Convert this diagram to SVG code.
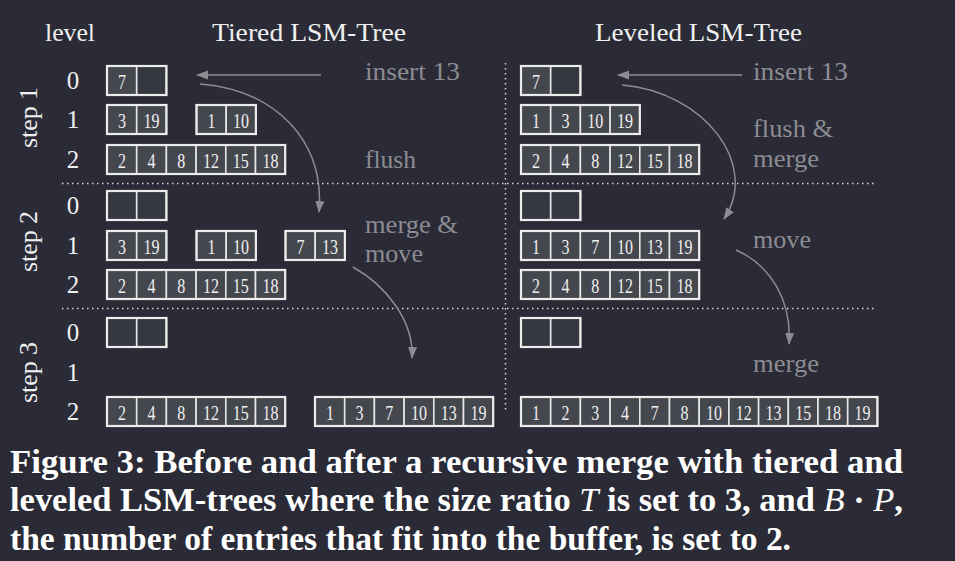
<svg xmlns="http://www.w3.org/2000/svg" width="955" height="561" viewBox="0 0 955 561">
<defs>
<style>
.bg{fill:#2a2b36}
.cell{fill:#45474f;stroke:#e6e6e6;stroke-width:1.6}
.empty{fill:#353741;stroke:#e6e6e6;stroke-width:1.6}
.box{fill:none;stroke:#ececec;stroke-width:2.2}
.num{font-family:"Liberation Serif","Times New Roman",serif;font-size:20px;fill:#f0f0f0;text-anchor:middle}
.lbl{font-family:"Liberation Serif","Times New Roman",serif;font-size:25px;fill:#f0f0f0}
.gl{font-family:"Liberation Serif","Times New Roman",serif;font-size:25px;fill:#8c8c92}
.cap{font-family:"Liberation Serif","Times New Roman",serif;font-size:33px;font-weight:bold;fill:#ffffff}
.it{font-style:italic;font-weight:normal}
.dot{stroke:#d8d8d8;stroke-width:1.5;stroke-dasharray:1.5 3.5;fill:none}
.conn{stroke:#8c8c92;stroke-width:1.5;fill:none;marker-end:url(#ah)}
</style>
<marker id="ah" markerUnits="userSpaceOnUse" markerWidth="12" markerHeight="10" refX="11" refY="4.5" orient="auto">
<path d="M0,0 L12,4.5 L0,9 z" fill="#8c8c92"/>
</marker>
</defs>
<rect class="bg" x="0" y="0" width="955" height="561"/>

<g id="headers">
<text class="lbl" x="45" y="41" textLength="50" lengthAdjust="spacingAndGlyphs">level</text>
<text class="lbl" x="212" y="41" textLength="194" lengthAdjust="spacingAndGlyphs">Tiered LSM-Tree</text>
<text class="lbl" x="595" y="41" textLength="207" lengthAdjust="spacingAndGlyphs">Leveled LSM-Tree</text>
</g>

<g id="steps">
<text class="lbl" transform="translate(37,148) rotate(-90)" textLength="61" lengthAdjust="spacingAndGlyphs">step 1</text>
<text class="lbl" transform="translate(37,272) rotate(-90)" textLength="61" lengthAdjust="spacingAndGlyphs">step 2</text>
<text class="lbl" transform="translate(37,403) rotate(-90)" textLength="61" lengthAdjust="spacingAndGlyphs">step 3</text>
</g>

<g id="levels" class="lbl" text-anchor="middle">
<text x="73" y="89">0</text><text x="73" y="128">1</text><text x="73" y="168">2</text>
<text x="73" y="214">0</text><text x="73" y="254">1</text><text x="73" y="293">2</text>
<text x="73" y="341">0</text><text x="73" y="381">1</text><text x="73" y="420">2</text>
</g>

<g id="separators">
<line class="dot" x1="62" y1="183.5" x2="875" y2="183.5"/>
<line class="dot" x1="62" y1="308.5" x2="875" y2="308.5"/>
<line class="dot" x1="505.5" y1="63" x2="505.5" y2="413"/>
</g>

<!-- Tiered step 1 -->
<g id="t1-l0">
<rect class="cell" x="107" y="66" width="29.7" height="29"/><rect class="empty" x="136.7" y="66" width="29.7" height="29"/>
<rect class="box" x="107" y="66" width="59.4" height="29"/>
<text class="num" x="121.9" y="89" textLength="8" lengthAdjust="spacingAndGlyphs">7</text>
</g>
<g id="t1-l1a">
<rect class="cell" x="107" y="105" width="29.7" height="29"/><rect class="cell" x="136.7" y="105" width="29.7" height="29"/>
<rect class="box" x="107" y="105" width="59.4" height="29"/>
<text class="num" x="121.9" y="128" textLength="8" lengthAdjust="spacingAndGlyphs">3</text>
<text class="num" x="151.6" y="128" textLength="16" lengthAdjust="spacingAndGlyphs">19</text>
</g>
<g id="t1-l1b">
<rect class="cell" x="196.5" y="105" width="29.7" height="29"/><rect class="cell" x="226.2" y="105" width="29.7" height="29"/>
<rect class="box" x="196.5" y="105" width="59.4" height="29"/>
<text class="num" x="211.4" y="128" textLength="8" lengthAdjust="spacingAndGlyphs">1</text>
<text class="num" x="241.1" y="128" textLength="16" lengthAdjust="spacingAndGlyphs">10</text>
</g>
<g id="t1-l2">
<rect class="cell" x="107" y="145" width="29.7" height="29"/><rect class="cell" x="136.7" y="145" width="29.7" height="29"/><rect class="cell" x="166.4" y="145" width="29.7" height="29"/><rect class="cell" x="196.1" y="145" width="29.7" height="29"/><rect class="cell" x="225.8" y="145" width="29.7" height="29"/><rect class="cell" x="255.5" y="145" width="29.7" height="29"/>
<rect class="box" x="107" y="145" width="178.2" height="29"/>
<text class="num" x="121.9" y="168" textLength="8" lengthAdjust="spacingAndGlyphs">2</text>
<text class="num" x="151.6" y="168" textLength="8" lengthAdjust="spacingAndGlyphs">4</text>
<text class="num" x="181.3" y="168" textLength="8" lengthAdjust="spacingAndGlyphs">8</text>
<text class="num" x="211" y="168" textLength="16" lengthAdjust="spacingAndGlyphs">12</text>
<text class="num" x="240.7" y="168" textLength="16" lengthAdjust="spacingAndGlyphs">15</text>
<text class="num" x="270.4" y="168" textLength="16" lengthAdjust="spacingAndGlyphs">18</text>
</g>

<!-- Tiered step 2 -->
<g id="t2-l0">
<rect class="empty" x="107" y="191" width="29.7" height="29"/><rect class="empty" x="136.7" y="191" width="29.7" height="29"/>
<rect class="box" x="107" y="191" width="59.4" height="29"/>
</g>
<g id="t2-l1a">
<rect class="cell" x="107" y="231" width="29.7" height="29"/><rect class="cell" x="136.7" y="231" width="29.7" height="29"/>
<rect class="box" x="107" y="231" width="59.4" height="29"/>
<text class="num" x="121.9" y="254" textLength="8" lengthAdjust="spacingAndGlyphs">3</text>
<text class="num" x="151.6" y="254" textLength="16" lengthAdjust="spacingAndGlyphs">19</text>
</g>
<g id="t2-l1b">
<rect class="cell" x="196.5" y="231" width="29.7" height="29"/><rect class="cell" x="226.2" y="231" width="29.7" height="29"/>
<rect class="box" x="196.5" y="231" width="59.4" height="29"/>
<text class="num" x="211.4" y="254" textLength="8" lengthAdjust="spacingAndGlyphs">1</text>
<text class="num" x="241.1" y="254" textLength="16" lengthAdjust="spacingAndGlyphs">10</text>
</g>
<g id="t2-l1c">
<rect class="cell" x="285.5" y="231" width="29.7" height="29"/><rect class="cell" x="315.2" y="231" width="29.7" height="29"/>
<rect class="box" x="285.5" y="231" width="59.4" height="29"/>
<text class="num" x="300.4" y="254" textLength="8" lengthAdjust="spacingAndGlyphs">7</text>
<text class="num" x="330.1" y="254" textLength="16" lengthAdjust="spacingAndGlyphs">13</text>
</g>
<g id="t2-l2">
<rect class="cell" x="107" y="270" width="29.7" height="29"/><rect class="cell" x="136.7" y="270" width="29.7" height="29"/><rect class="cell" x="166.4" y="270" width="29.7" height="29"/><rect class="cell" x="196.1" y="270" width="29.7" height="29"/><rect class="cell" x="225.8" y="270" width="29.7" height="29"/><rect class="cell" x="255.5" y="270" width="29.7" height="29"/>
<rect class="box" x="107" y="270" width="178.2" height="29"/>
<text class="num" x="121.9" y="293" textLength="8" lengthAdjust="spacingAndGlyphs">2</text>
<text class="num" x="151.6" y="293" textLength="8" lengthAdjust="spacingAndGlyphs">4</text>
<text class="num" x="181.3" y="293" textLength="8" lengthAdjust="spacingAndGlyphs">8</text>
<text class="num" x="211" y="293" textLength="16" lengthAdjust="spacingAndGlyphs">12</text>
<text class="num" x="240.7" y="293" textLength="16" lengthAdjust="spacingAndGlyphs">15</text>
<text class="num" x="270.4" y="293" textLength="16" lengthAdjust="spacingAndGlyphs">18</text>
</g>

<!-- Tiered step 3 -->
<g id="t3-l0">
<rect class="empty" x="107" y="318" width="29.7" height="29"/><rect class="empty" x="136.7" y="318" width="29.7" height="29"/>
<rect class="box" x="107" y="318" width="59.4" height="29"/>
</g>
<g id="t3-l2a">
<rect class="cell" x="107" y="397" width="29.7" height="29"/><rect class="cell" x="136.7" y="397" width="29.7" height="29"/><rect class="cell" x="166.4" y="397" width="29.7" height="29"/><rect class="cell" x="196.1" y="397" width="29.7" height="29"/><rect class="cell" x="225.8" y="397" width="29.7" height="29"/><rect class="cell" x="255.5" y="397" width="29.7" height="29"/>
<rect class="box" x="107" y="397" width="178.2" height="29"/>
<text class="num" x="121.9" y="420" textLength="8" lengthAdjust="spacingAndGlyphs">2</text>
<text class="num" x="151.6" y="420" textLength="8" lengthAdjust="spacingAndGlyphs">4</text>
<text class="num" x="181.3" y="420" textLength="8" lengthAdjust="spacingAndGlyphs">8</text>
<text class="num" x="211" y="420" textLength="16" lengthAdjust="spacingAndGlyphs">12</text>
<text class="num" x="240.7" y="420" textLength="16" lengthAdjust="spacingAndGlyphs">15</text>
<text class="num" x="270.4" y="420" textLength="16" lengthAdjust="spacingAndGlyphs">18</text>
</g>
<g id="t3-l2b">
<rect class="cell" x="315" y="397" width="29.7" height="29"/><rect class="cell" x="344.7" y="397" width="29.7" height="29"/><rect class="cell" x="374.4" y="397" width="29.7" height="29"/><rect class="cell" x="404.1" y="397" width="29.7" height="29"/><rect class="cell" x="433.8" y="397" width="29.7" height="29"/><rect class="cell" x="463.5" y="397" width="29.7" height="29"/>
<rect class="box" x="315" y="397" width="178.2" height="29"/>
<text class="num" x="329.9" y="420" textLength="8" lengthAdjust="spacingAndGlyphs">1</text>
<text class="num" x="359.6" y="420" textLength="8" lengthAdjust="spacingAndGlyphs">3</text>
<text class="num" x="389.3" y="420" textLength="8" lengthAdjust="spacingAndGlyphs">7</text>
<text class="num" x="419" y="420" textLength="16" lengthAdjust="spacingAndGlyphs">10</text>
<text class="num" x="448.7" y="420" textLength="16" lengthAdjust="spacingAndGlyphs">13</text>
<text class="num" x="478.4" y="420" textLength="16" lengthAdjust="spacingAndGlyphs">19</text>
</g>

<!-- Leveled step 1 -->
<g id="l1-l0">
<rect class="cell" x="521" y="66" width="29.7" height="29"/><rect class="empty" x="550.7" y="66" width="29.7" height="29"/>
<rect class="box" x="521" y="66" width="59.4" height="29"/>
<text class="num" x="535.9" y="89" textLength="8" lengthAdjust="spacingAndGlyphs">7</text>
</g>
<g id="l1-l1">
<rect class="cell" x="521" y="105" width="29.7" height="29"/><rect class="cell" x="550.7" y="105" width="29.7" height="29"/><rect class="cell" x="580.4" y="105" width="29.7" height="29"/><rect class="cell" x="610.1" y="105" width="29.7" height="29"/>
<rect class="box" x="521" y="105" width="118.8" height="29"/>
<text class="num" x="535.9" y="128" textLength="8" lengthAdjust="spacingAndGlyphs">1</text>
<text class="num" x="565.6" y="128" textLength="8" lengthAdjust="spacingAndGlyphs">3</text>
<text class="num" x="595.3" y="128" textLength="16" lengthAdjust="spacingAndGlyphs">10</text>
<text class="num" x="625" y="128" textLength="16" lengthAdjust="spacingAndGlyphs">19</text>
</g>
<g id="l1-l2">
<rect class="cell" x="521" y="145" width="29.7" height="29"/><rect class="cell" x="550.7" y="145" width="29.7" height="29"/><rect class="cell" x="580.4" y="145" width="29.7" height="29"/><rect class="cell" x="610.1" y="145" width="29.7" height="29"/><rect class="cell" x="639.8" y="145" width="29.7" height="29"/><rect class="cell" x="669.5" y="145" width="29.7" height="29"/>
<rect class="box" x="521" y="145" width="178.2" height="29"/>
<text class="num" x="535.9" y="168" textLength="8" lengthAdjust="spacingAndGlyphs">2</text>
<text class="num" x="565.6" y="168" textLength="8" lengthAdjust="spacingAndGlyphs">4</text>
<text class="num" x="595.3" y="168" textLength="8" lengthAdjust="spacingAndGlyphs">8</text>
<text class="num" x="625" y="168" textLength="16" lengthAdjust="spacingAndGlyphs">12</text>
<text class="num" x="654.7" y="168" textLength="16" lengthAdjust="spacingAndGlyphs">15</text>
<text class="num" x="684.4" y="168" textLength="16" lengthAdjust="spacingAndGlyphs">18</text>
</g>

<!-- Leveled step 2 -->
<g id="l2-l0">
<rect class="empty" x="521" y="191" width="29.7" height="29"/><rect class="empty" x="550.7" y="191" width="29.7" height="29"/>
<rect class="box" x="521" y="191" width="59.4" height="29"/>
</g>
<g id="l2-l1">
<rect class="cell" x="521" y="231" width="29.7" height="29"/><rect class="cell" x="550.7" y="231" width="29.7" height="29"/><rect class="cell" x="580.4" y="231" width="29.7" height="29"/><rect class="cell" x="610.1" y="231" width="29.7" height="29"/><rect class="cell" x="639.8" y="231" width="29.7" height="29"/><rect class="cell" x="669.5" y="231" width="29.7" height="29"/>
<rect class="box" x="521" y="231" width="178.2" height="29"/>
<text class="num" x="535.9" y="254" textLength="8" lengthAdjust="spacingAndGlyphs">1</text>
<text class="num" x="565.6" y="254" textLength="8" lengthAdjust="spacingAndGlyphs">3</text>
<text class="num" x="595.3" y="254" textLength="8" lengthAdjust="spacingAndGlyphs">7</text>
<text class="num" x="625" y="254" textLength="16" lengthAdjust="spacingAndGlyphs">10</text>
<text class="num" x="654.7" y="254" textLength="16" lengthAdjust="spacingAndGlyphs">13</text>
<text class="num" x="684.4" y="254" textLength="16" lengthAdjust="spacingAndGlyphs">19</text>
</g>
<g id="l2-l2">
<rect class="cell" x="521" y="270" width="29.7" height="29"/><rect class="cell" x="550.7" y="270" width="29.7" height="29"/><rect class="cell" x="580.4" y="270" width="29.7" height="29"/><rect class="cell" x="610.1" y="270" width="29.7" height="29"/><rect class="cell" x="639.8" y="270" width="29.7" height="29"/><rect class="cell" x="669.5" y="270" width="29.7" height="29"/>
<rect class="box" x="521" y="270" width="178.2" height="29"/>
<text class="num" x="535.9" y="293" textLength="8" lengthAdjust="spacingAndGlyphs">2</text>
<text class="num" x="565.6" y="293" textLength="8" lengthAdjust="spacingAndGlyphs">4</text>
<text class="num" x="595.3" y="293" textLength="8" lengthAdjust="spacingAndGlyphs">8</text>
<text class="num" x="625" y="293" textLength="16" lengthAdjust="spacingAndGlyphs">12</text>
<text class="num" x="654.7" y="293" textLength="16" lengthAdjust="spacingAndGlyphs">15</text>
<text class="num" x="684.4" y="293" textLength="16" lengthAdjust="spacingAndGlyphs">18</text>
</g>

<!-- Leveled step 3 -->
<g id="l3-l0">
<rect class="empty" x="521" y="318" width="29.7" height="29"/><rect class="empty" x="550.7" y="318" width="29.7" height="29"/>
<rect class="box" x="521" y="318" width="59.4" height="29"/>
</g>
<g id="l3-l2">
<rect class="cell" x="521" y="397" width="29.7" height="29"/><rect class="cell" x="550.7" y="397" width="29.7" height="29"/><rect class="cell" x="580.4" y="397" width="29.7" height="29"/><rect class="cell" x="610.1" y="397" width="29.7" height="29"/><rect class="cell" x="639.8" y="397" width="29.7" height="29"/><rect class="cell" x="669.5" y="397" width="29.7" height="29"/><rect class="cell" x="699.2" y="397" width="29.7" height="29"/><rect class="cell" x="728.9" y="397" width="29.7" height="29"/><rect class="cell" x="758.6" y="397" width="29.7" height="29"/><rect class="cell" x="788.3" y="397" width="29.7" height="29"/><rect class="cell" x="818" y="397" width="29.7" height="29"/><rect class="cell" x="847.7" y="397" width="29.7" height="29"/>
<rect class="box" x="521" y="397" width="356.4" height="29"/>
<text class="num" x="535.9" y="420" textLength="8" lengthAdjust="spacingAndGlyphs">1</text>
<text class="num" x="565.6" y="420" textLength="8" lengthAdjust="spacingAndGlyphs">2</text>
<text class="num" x="595.3" y="420" textLength="8" lengthAdjust="spacingAndGlyphs">3</text>
<text class="num" x="625" y="420" textLength="8" lengthAdjust="spacingAndGlyphs">4</text>
<text class="num" x="654.7" y="420" textLength="8" lengthAdjust="spacingAndGlyphs">7</text>
<text class="num" x="684.4" y="420" textLength="8" lengthAdjust="spacingAndGlyphs">8</text>
<text class="num" x="714.1" y="420" textLength="16" lengthAdjust="spacingAndGlyphs">10</text>
<text class="num" x="743.8" y="420" textLength="16" lengthAdjust="spacingAndGlyphs">12</text>
<text class="num" x="773.5" y="420" textLength="16" lengthAdjust="spacingAndGlyphs">13</text>
<text class="num" x="803.2" y="420" textLength="16" lengthAdjust="spacingAndGlyphs">15</text>
<text class="num" x="832.9" y="420" textLength="16" lengthAdjust="spacingAndGlyphs">18</text>
<text class="num" x="862.6" y="420" textLength="16" lengthAdjust="spacingAndGlyphs">19</text>
</g>

<g id="annotations">
<text class="gl" x="365" y="80" textLength="95" lengthAdjust="spacingAndGlyphs">insert 13</text>
<text class="gl" x="365" y="168" textLength="51" lengthAdjust="spacingAndGlyphs">flush</text>
<text class="gl" x="365" y="233" textLength="93" lengthAdjust="spacingAndGlyphs">merge &amp;</text>
<text class="gl" x="365" y="262" textLength="58" lengthAdjust="spacingAndGlyphs">move</text>
<text class="gl" x="753" y="80" textLength="95" lengthAdjust="spacingAndGlyphs">insert 13</text>
<text class="gl" x="753" y="137" textLength="80" lengthAdjust="spacingAndGlyphs">flush &amp;</text>
<text class="gl" x="753" y="167" textLength="66" lengthAdjust="spacingAndGlyphs">merge</text>
<text class="gl" x="753" y="248" textLength="58" lengthAdjust="spacingAndGlyphs">move</text>
<text class="gl" x="753" y="372" textLength="66" lengthAdjust="spacingAndGlyphs">merge</text>
</g>

<g id="connectors">
<line class="conn" x1="321" y1="75" x2="197" y2="75"/>
<line class="conn" x1="742" y1="75" x2="618" y2="75"/>
<path class="conn" d="M200,84 C275,90 325,140 319,212"/>
<path class="conn" d="M622,85 C705,92 760,165 724,219"/>
<path class="conn" d="M353,267 C385,285 414,320 412,358"/>
<path class="conn" d="M736,250 C770,265 792,300 789,344"/>
</g>

<g id="caption">
<text class="cap" x="10" y="473" textLength="893" lengthAdjust="spacingAndGlyphs">Figure 3: Before and after a recursive merge with tiered and</text>
<text class="cap" x="10" y="511" textLength="893" lengthAdjust="spacingAndGlyphs">leveled LSM-trees where the size ratio <tspan class="it">T</tspan> is set to 3, and <tspan class="it">B</tspan> · <tspan class="it">P</tspan>,</text>
<text class="cap" x="10" y="550" textLength="781" lengthAdjust="spacingAndGlyphs">the number of entries that fit into the buffer, is set to 2.</text>
</g>
</svg>
